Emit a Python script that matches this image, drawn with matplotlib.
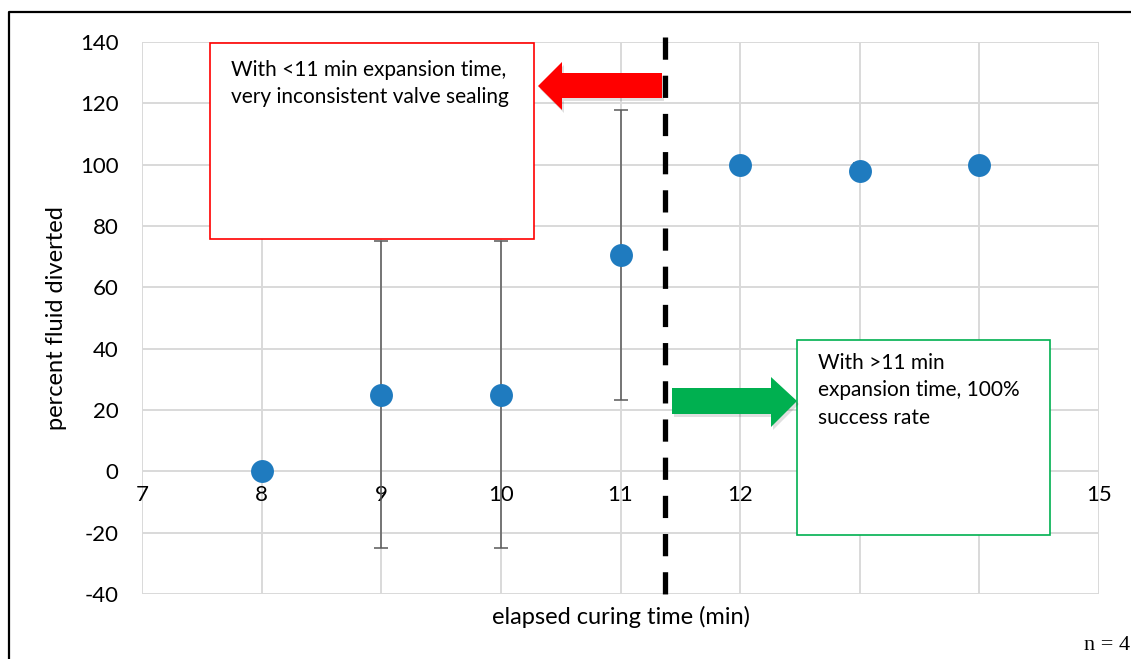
import matplotlib
matplotlib.use("Agg")
import matplotlib.pyplot as plt
from matplotlib.patches import Polygon, Rectangle
from matplotlib.lines import Line2D

# Curing-time trial results
curing_time = [8, 9, 10, 11, 12, 13, 14]
pct_diverted = [0, 25, 25, 70.5, 100, 98, 100]
pct_error = [0, 50, 50, 47.3, 0, 2.5, 0]
x_ticks = [7, 8, 9, 10, 11, 12, 13, 14, 15]
y_ticks = [-40, -20, 0, 20, 40, 60, 80, 100, 120, 140]
threshold = 11.37

W, H = 1131, 659
plt.rcParams["font.family"] = ["Lato", "DejaVu Sans"]
plt.rcParams["lines.scale_dashes"] = False

fig = plt.figure(figsize=(W / 100, H / 100), dpi=100)
ax = fig.add_axes([142 / W, 1 - 594 / H, (1099 - 142) / W, (594 - 42) / H])


def fx(px):
    return px / W


def fy(py):
    return 1 - py / H


ax.set_xlim(7, 15)
ax.set_ylim(-40, 140)
ax.set_xticks(x_ticks)
ax.set_yticks(y_ticks)
ax.set_xticklabels([])
ax.set_yticklabels([str(v) for v in y_ticks], fontsize=16)
ax.tick_params(axis="both", length=0)
ax.tick_params(axis="y", pad=17)
ax.grid(True, color="#d9d9d9", linewidth=1.4)
ax.set_axisbelow(True)
for s in ax.spines.values():
    s.set_visible(False)

# x tick labels sit just below the zero line
for xv in x_ticks:
    ax.annotate(str(xv), xy=(xv, 0), xytext=(0, -10), textcoords="offset points",
                ha="center", va="top", fontsize=16, color="black")

ax.set_xlabel("elapsed curing time (min)", fontsize=17, labelpad=5)
ax.set_ylabel("percent fluid diverted", fontsize=17, labelpad=9)

ax.errorbar(curing_time, pct_diverted, yerr=pct_error, fmt="none",
            ecolor="#595959", elinewidth=1.1, capsize=5, capthick=1.1, zorder=3)
ax.plot(curing_time, pct_diverted, "o", color="#1f7bbf", markersize=16.5,
        markeredgewidth=0, zorder=4)

# threshold marker line
ax.plot([threshold, threshold], [141.5, -40], color="black", linewidth=3.8,
        dashes=(16, 11.5), dash_capstyle="butt", clip_on=False, zorder=5)

# call-out boxes
fig.patches.append(Rectangle((fx(210), fy(239)), fx(534) - fx(210), fy(43) - fy(239),
                             transform=fig.transFigure, facecolor="white",
                             edgecolor="#ff0000", linewidth=1.2, zorder=6))
fig.patches.append(Rectangle((fx(797), fy(535)), fx(1050) - fx(797), fy(340) - fy(535),
                             transform=fig.transFigure, facecolor="white",
                             edgecolor="#00b050", linewidth=1.2, zorder=6))

red_lines = ["With <11 min expansion time,", "very inconsistent valve sealing"]
for i, t in enumerate(red_lines):
    fig.text(fx(231), fy(70 + 27 * i), t, ha="left", va="center", fontsize=15,
             color="black", zorder=7)
green_lines = ["With >11 min", "expansion time, 100%", "success rate"]
for i, t in enumerate(green_lines):
    fig.text(fx(818), fy(363 + 27.5 * i), t, ha="left", va="center", fontsize=15,
             color="black", zorder=7)


def block_arrow(points, color):
    shadow = [(fx(px + 2), fy(py + 3)) for px, py in points]
    fig.patches.append(Polygon(shadow, closed=True, transform=fig.transFigure,
                               facecolor="black", alpha=0.12, edgecolor="none", zorder=6))
    fig.patches.append(Polygon([(fx(px), fy(py)) for px, py in points], closed=True,
                               transform=fig.transFigure, facecolor=color,
                               edgecolor="none", zorder=6))


block_arrow([(662, 73), (562, 73), (562, 62), (538, 86), (562, 110), (562, 98), (662, 98)],
            "#ff0000")
block_arrow([(672, 388), (771, 388), (771, 377), (797, 401), (771, 427), (771, 414), (672, 414)],
            "#00b050")

# outer frame
fig.lines.append(Line2D([fx(9), fx(9), fx(1131)], [fy(659), fy(12), fy(12)],
                        transform=fig.transFigure, color="black", linewidth=1.6))

fig.text(fx(1130), fy(645), "n = 4", ha="right", va="center", fontsize=16,
         family=["Liberation Serif", "DejaVu Serif"])

fig.savefig("out.png", dpi=100)
